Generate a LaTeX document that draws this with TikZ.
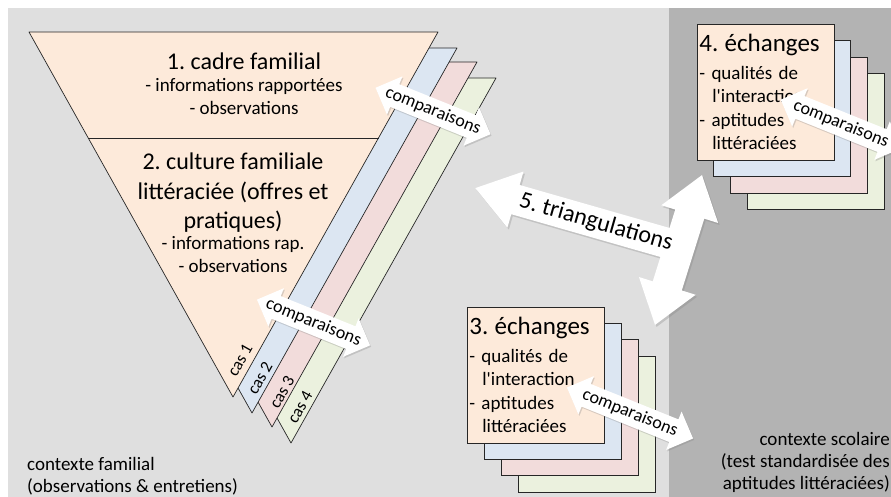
\documentclass[tikz,border=0pt]{standalone}
\usepackage{fontspec}
\setmainfont{Carlito}
\usepackage{xcolor}
\usetikzlibrary{shapes.arrows, positioning, shadows}
\definecolor{famgray}{HTML}{DFDFDF}
\definecolor{scolgray}{HTML}{B3B3B3}
\definecolor{famorange}{HTML}{FDEADA}
\definecolor{casblue}{HTML}{DCE6F2}
\definecolor{caspink}{HTML}{F2DCDB}
\definecolor{casgreen}{HTML}{EBF1DE}
\frenchspacing
\tikzstyle{strip} = [draw=black!85, line width=0.7pt, line join=round]
\tikzstyle{casebox} = [rectangle, draw=black!85, line width=0.7pt, minimum width=137pt, minimum height=136pt, anchor=north west]
\tikzstyle{exchbox} = [casebox, fill=famorange, text width=133pt, inner xsep=1.5pt, align=left, font=\fontsize{19}{23.5}\selectfont]
\tikzstyle{titletext} = [font=\fontsize{24}{29.5}\selectfont, inner sep=0pt, align=center]
\tikzstyle{itemtext} = [font=\fontsize{19}{23}\selectfont, inner sep=0pt, align=center]
\tikzstyle{castext} = [font=\fontsize{17}{20}\selectfont, inner sep=0pt, rotate=60.7]
\tikzstyle{cmparrow} = [double arrow, fill=white, inner xsep=0pt, inner ysep=12pt, double arrow head extend=8.5pt, double arrow tip angle=90, rotate=-22, drop shadow={opacity=0.3, shadow xshift=1pt, shadow yshift=-1.5pt}]
\tikzstyle{cmptext} = [font=\fontsize{18}{20}\selectfont, inner sep=0pt, rotate=-22]
\tikzstyle{triarrow} = [fill=white, inner xsep=0pt, inner ysep=15pt, drop shadow={opacity=0.3, shadow xshift=1.5pt, shadow yshift=-2pt}]
\tikzstyle{ctxtext} = [font=\fontsize{19}{22}\selectfont, inner sep=0pt]

\begin{document}
\begin{tikzpicture}[x=1pt, y=-1pt]
\useasboundingbox (0,0) rectangle (891,497);

% contexts
\fill[famgray] (8,8) rectangle (891,497);
\fill[scolgray] (669,8) rectangle (891,497);

% family triangle and its cases
\draw[strip, fill=casgreen] (87,78) -- (496,78) -- (291,443) -- cycle;
\draw[strip, fill=caspink] (68,62) -- (477,62) -- (272,427) -- cycle;
\draw[strip, fill=casblue] (48,48) -- (457,48) -- (252,413) -- cycle;
\draw[strip, fill=famorange] (29,32) -- (438,32) -- (233,397) -- cycle;
\draw[strip] (88.4,138) -- (378.6,138);

\node (fam-title) [titletext, anchor=base] at (244,70) {1. cadre familial};
\node (fam-items) [itemtext, below=8pt of fam-title] {- informations rapportées\\- observations};
\node (lit-title) [titletext, anchor=north] at (233,153) {2. culture familiale\\littéraciée (offres et\\pratiques)};
\node (lit-items) [itemtext, below=3pt of lit-title] {- informations rap.\\- observations};

\node (cas1) [castext] at (240,360) {cas 1};
\node (cas2) [castext] at (260,378) {cas 2};
\node (cas3) [castext] at (282,392) {cas 3};
\node (cas4) [castext] at (300,407) {cas 4};

\node (cmp-top) [cmparrow, minimum height=124pt] at (433,111) {};
\node (cmp-top-txt) [cmptext] at (cmp-top) {comparaisons};
\node (cmp-low) [cmparrow, minimum height=122pt] at (313.5,322.5) {};
\node (cmp-low-txt) [cmptext] at (cmp-low) {comparaisons};

% exchanges, home
\node (ech3-green) [casebox, fill=casgreen] at (518,356) {};
\node (ech3-pink) [casebox, fill=caspink] at (501,339) {};
\node (ech3-blue) [casebox, fill=casblue] at (484,323) {};
\node (ech3) [exchbox] at (467,307) {{\fontsize{25}{28}\selectfont 3. échanges}\\[4pt]- qualités de\\\hspace*{13pt}l\textquotesingle interaction\\- aptitudes\\\hspace*{13pt}littéraciées};
\node (cmp-ech3) [cmparrow, minimum height=136pt] at (630,413) {};
\node (cmp-ech3-txt) [cmptext] at (cmp-ech3) {comparaisons};

% exchanges, school
\node (ech4-green) [casebox, fill=casgreen] at (747,73) {};
\node (ech4-pink) [casebox, fill=caspink] at (730,57) {};
\node (ech4-blue) [casebox, fill=casblue] at (713,40) {};
\node (ech4) [exchbox] at (697,24) {{\fontsize{25}{28}\selectfont 4. échanges}\\[4pt]- qualités de\\\hspace*{13pt}l\textquotesingle interaction\\- aptitudes\\\hspace*{13pt}littéraciées};
\node (cmp-ech4) [cmparrow, minimum height=130pt] at (841,124) {};
\node (cmp-ech4-txt) [cmptext] at (cmp-ech4) {comparaisons};

% triangulations
\node (tri-fam) [triarrow, single arrow, shape border rotate=180, single arrow head extend=14pt, single arrow tip angle=70, minimum height=212pt, anchor=tip, rotate=-16] at (475,188) {};
\node (tri-ech) [triarrow, double arrow, double arrow head extend=14.5pt, double arrow tip angle=72, minimum height=157pt, rotate=72.6] at (678.5,250) {};
\node (tri-txt) [font=\fontsize{24}{28}\selectfont, inner sep=0pt, rotate=-16] at (596,222.5) {5. triangulations};

% context labels
\node (ctx-fam) [ctxtext, anchor=north west, align=left] at (27,457) {contexte familial\\(observations \& entretiens)};
\node (ctx-scol) [ctxtext, anchor=north east, align=right] at (890,432) {contexte scolaire\\(test standardisée des\\aptitudes littéraciées)};

\end{tikzpicture}
\end{document}
